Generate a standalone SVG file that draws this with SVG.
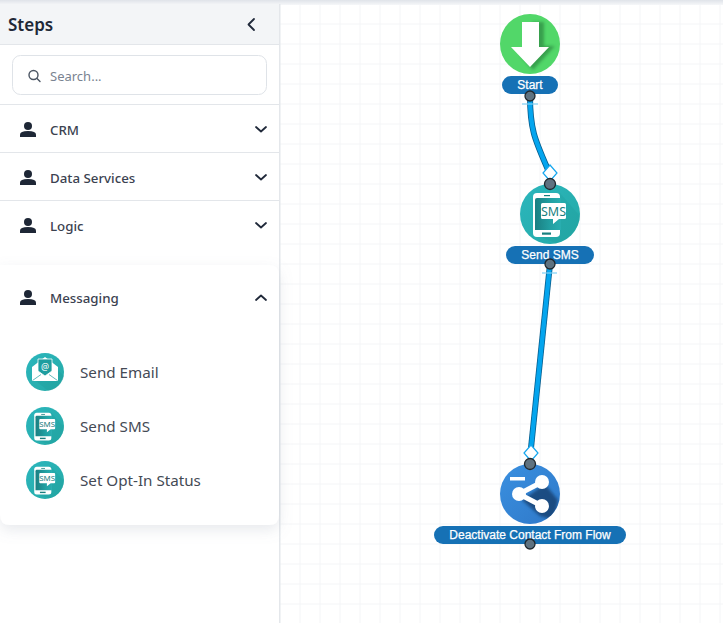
<svg xmlns="http://www.w3.org/2000/svg" width="723" height="623" viewBox="0 0 723 623">
<style>
.ui{font-family:"Noto Sans","Open Sans","Liberation Sans",sans-serif}
.cat{font-size:13.300px;font-weight:500;fill:#3b4250}
.item{font-size:15.200px;fill:#444a55}
.lab{font-family:"Liberation Sans",Arial,sans-serif;font-size:12px;fill:#fff;stroke:#fff;stroke-width:.25;text-anchor:middle}
.pill{fill:#1671b5}
.port{fill:#5f7280;stroke:#20282e;stroke-width:1.3}
.sep{stroke:#e3e6ea;stroke-width:1}
.chev{fill:none;stroke:#20293a;stroke-width:1.8;stroke-linecap:round;stroke-linejoin:round}
.wire{fill:none;stroke:#075e8e;stroke-width:6}
.wire2{fill:none;stroke:#04a5ee;stroke-width:4.4}
.dia{fill:#fff;stroke:#15a6ee;stroke-width:1.2}
.tick{stroke:#7fd0f5;stroke-width:1.2}
.grid{stroke:#f4f5f7;stroke-width:1}
</style>
<defs>
<linearGradient id="teal" x1="0" y1="0" x2="1" y2="1"><stop offset="0" stop-color="#2bb6bd"/><stop offset="1" stop-color="#25aaa6"/></linearGradient>
<linearGradient id="blue" x1="0" y1="0" x2="1" y2="1"><stop offset="0" stop-color="#3a90e0"/><stop offset="1" stop-color="#2f78c8"/></linearGradient>
<linearGradient id="screen" x1="0" y1="0" x2="1" y2="0"><stop offset="0" stop-color="#1a7f82"/><stop offset=".6" stop-color="#22a0a2"/><stop offset="1" stop-color="#29aeb0"/></linearGradient>
<linearGradient id="topbar" x1="0" y1="0" x2="0" y2="1"><stop offset="0" stop-color="#dfe3e9"/><stop offset="1" stop-color="#f6f7f9"/></linearGradient>
<filter id="cardshadow" x="-10%" y="-10%" width="120%" height="125%"><feDropShadow dx="0" dy="5" stdDeviation="7" flood-color="#8a94a6" flood-opacity=".2"/></filter>
<filter id="blur" x="-30%" y="-30%" width="160%" height="160%"><feGaussianBlur stdDeviation="1.800"/></filter>
<clipPath id="cg"><circle cx="530" cy="44" r="30"/></clipPath>
<clipPath id="cb"><circle cx="530" cy="494" r="30"/></clipPath>
<g id="sms-icon">
<circle cx="30" cy="30" r="30" fill="url(#teal)"/>
<path d="M40 9L60 32A30 30 0 0 1 36 59L13 50Z" fill="#1f9a9c" opacity=".3"/>
<path d="M13 13Q13 9 17 9H36Q40 9 40 13V49Q40 53 36 53H17Q13 53 13 49Z" fill="#fff"/>
<path d="M17 14H41V46H15V16Q15 14 17 14Z" fill="url(#screen)"/>
<rect x="24" y="11" width="6" height="1.200" fill="#19807f"/>
<rect x="22" y="48.500" width="9" height="2.200" fill="#19807f"/>
<path d="M22.500 19H44.500Q46 19 46 20.500V33.500Q46 35 44.500 35H39L33 40V35H22.500Q21 35 21 33.500V20.500Q21 19 22.500 19Z" fill="#fff"/>
<text x="33.500" y="31.500" font-family="'Noto Sans','Liberation Sans',sans-serif" font-size="12.500" text-anchor="middle" fill="#19807f">SMS</text>
</g>
<g id="person">
<circle cx="8" cy="5" r="4" fill="#1e2736"/>
<path d="M0 16V13.500Q0 10 8 10Q16 10 16 13.500V16Z" fill="#1e2736"/>
</g>
</defs>
<rect width="723" height="623" fill="#fff"/>
<g id="canvas-grid">
<path class="grid" d="M300 4V623M320 4V623M340 4V623M360 4V623M380 4V623M400 4V623M420 4V623M440 4V623M460 4V623M480 4V623M500 4V623M520 4V623M540 4V623M560 4V623M580 4V623M600 4V623M620 4V623M640 4V623M660 4V623M680 4V623M700 4V623M720 4V623"/>
<path class="grid" d="M280 24H723M280 44H723M280 64H723M280 84H723M280 104H723M280 124H723M280 144H723M280 164H723M280 184H723M280 204H723M280 224H723M280 244H723M280 264H723M280 284H723M280 304H723M280 324H723M280 344H723M280 364H723M280 384H723M280 404H723M280 424H723M280 444H723M280 464H723M280 484H723M280 504H723M280 524H723M280 544H723M280 564H723M280 584H723M280 604H723"/>
</g>
<rect id="top-bar" x="0" y="0" width="723" height="5" fill="url(#topbar)"/>
<g id="sidebar">
<rect x="279" y="4" width="1.500" height="619" fill="#e4e7eb"/>
<rect x="0" y="4" width="279" height="40" fill="#f3f5f7"/>
<line class="sep" x1="0" y1="44.500" x2="279" y2="44.500"/>
<text class="ui" x="8" y="31" font-size="17" font-weight="600" fill="#1f2937">Steps</text>
<path class="chev" d="M254 19L248.500 24.500L254 30" stroke-width="2"/>
<rect x="12.500" y="55.500" width="254" height="39" rx="8" fill="#fff" stroke="#dfe3e8"/>
<circle cx="33.500" cy="75" r="4.500" fill="none" stroke="#4b5563" stroke-width="1.400"/>
<line x1="37" y1="78.500" x2="40" y2="81.500" stroke="#4b5563" stroke-width="1.400" stroke-linecap="round"/>
<text class="ui" x="50" y="81" font-size="13" fill="#7a8391">Search...</text>
<line class="sep" x1="0" y1="104.500" x2="279" y2="104.500"/>
<line class="sep" x1="0" y1="152.500" x2="279" y2="152.500"/>
<line class="sep" x1="0" y1="200.500" x2="279" y2="200.500"/>
</g>
<g id="cat-crm"><use href="#person" x="20" y="121"/><text class="ui cat" x="50" y="135">CRM</text><path class="chev" d="M256 127L261 131.500L266 127"/></g>
<g id="cat-data"><use href="#person" x="20" y="169"/><text class="ui cat" x="50" y="183">Data Services</text><path class="chev" d="M256 175L261 179.500L266 175"/></g>
<g id="cat-logic"><use href="#person" x="20" y="217"/><text class="ui cat" x="50" y="231">Logic</text><path class="chev" d="M256 223L261 227.500L266 223"/></g>
<g id="cat-messaging">
<path d="M0 265H269Q279 265 279 275V515Q279 525 269 525H10Q0 525 0 515Z" fill="#fff" filter="url(#cardshadow)"/>
<use href="#person" x="20" y="289"/><text class="ui cat" x="50" y="303">Messaging</text><path class="chev" d="M256 300L261 295.500L266 300"/>
</g>
<g id="item-email">
<circle cx="45" cy="372" r="19" fill="url(#teal)"/>
<path d="M58 370L64 376A19 19 0 0 1 48 390.800L36 381Z" fill="#1f9a9c" opacity=".35"/>
<path d="M32 367L45 357L58 367V381H32Z" fill="#fff"/>
<path d="M38 359H52V371L45 376L38 371Z" fill="#1e9d9f" stroke="#fff" stroke-width=".8"/>
<path d="M32 368L45 377L58 368V381H32Z" fill="#fff"/>
<path d="M32.500 380.500L41 374.500M57.500 380.500L49 374.500" stroke="#1e9d9f" stroke-width=".7" fill="none"/>
<text x="45" y="370" font-family="'Noto Sans','Liberation Sans',sans-serif" font-size="9" text-anchor="middle" fill="#fff">@</text>
<text class="ui item" x="80" y="378">Send Email</text>
</g>
<g id="item-sms"><use href="#sms-icon" transform="translate(26 407) scale(.6333)"/><text class="ui item" x="80" y="432">Send SMS</text></g>
<g id="item-optin"><use href="#sms-icon" transform="translate(26 461) scale(.6333)"/><text class="ui item" x="80" y="486">Set Opt-In Status</text></g>
<g id="connectors">
<path class="wire" d="M530 96C530 130 535 140 549 172"/>
<path class="wire2" d="M530 96C530 130 535 140 549 172"/>
<line class="tick" x1="522" y1="104" x2="538" y2="104"/>
<path class="dia" d="M550 165L557 173L550 181L543 173Z"/>
<path class="wire" d="M550 264L531 448"/>
<path class="wire2" d="M550 264L531 448"/>
<line class="tick" x1="542" y1="273" x2="557" y2="273"/>
<path class="dia" d="M531 445L538 453L531 461L524 453Z"/>
</g>
<g id="node-start">
<circle cx="530" cy="44" r="30" fill="#52d769"/>
<g clip-path="url(#cg)"><path d="M532 22H544V46H555L533 70L520 55H532Z" fill="#1c6b33" opacity=".5" filter="url(#blur)"/></g>
<path d="M522 22H539V47H549L530 67L511 47H522Z" fill="#fff"/>
<rect class="pill" x="502" y="76" width="56" height="18" rx="9"/>
<text class="lab" x="530" y="89">Start</text>
<circle class="port" cx="530" cy="96" r="5"/>
</g>
<g id="node-sms">
<use href="#sms-icon" x="520" y="184"/>
<rect class="pill" x="506" y="246" width="88" height="18" rx="9"/>
<text class="lab" x="550" y="259">Send SMS</text>
<circle class="port" cx="550" cy="184" r="5.500"/>
<circle class="port" cx="550" cy="264" r="5"/>
</g>
<g id="node-deactivate">
<circle cx="530" cy="494" r="30" fill="url(#blue)"/>
<g clip-path="url(#cb)"><path d="M545 484L558 500L554 520L540 516L522 500Z" fill="#0c2c50" opacity=".6" filter="url(#blur)"/></g>
<rect x="510" y="477" width="15" height="3.500" fill="#fff"/>
<path d="M542 482L519 494L542 506" fill="none" stroke="#fff" stroke-width="5"/>
<circle cx="542" cy="482" r="7" fill="#fff"/><circle cx="519" cy="494" r="7" fill="#fff"/><circle cx="542" cy="506" r="7" fill="#fff"/>
<rect class="pill" x="434" y="526" width="192" height="18" rx="9"/>
<text class="lab" x="530" y="539">Deactivate Contact From Flow</text>
<circle class="port" cx="530" cy="464" r="5.500"/>
<circle class="port" cx="530" cy="544" r="5"/>
</g>
</svg>
